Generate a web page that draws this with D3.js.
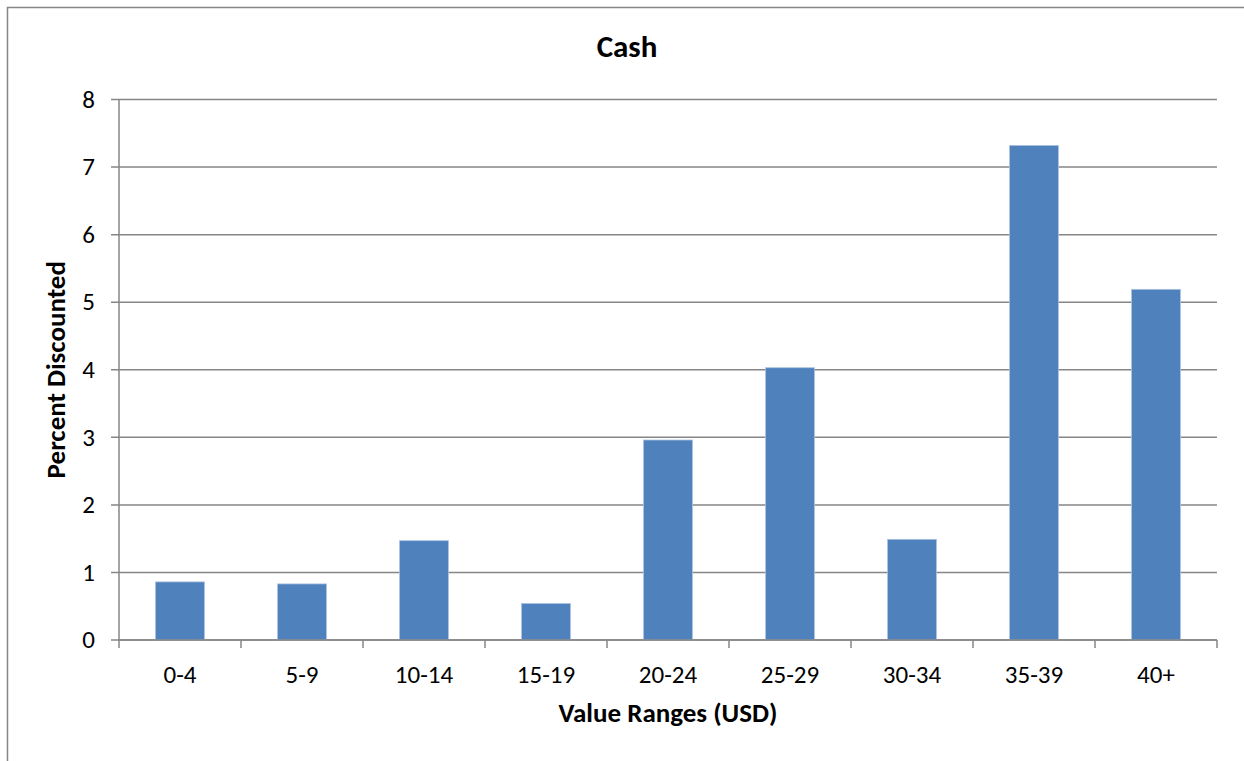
<!DOCTYPE html>
<html><head><meta charset="utf-8">
<script src="https://cdn.jsdelivr.net/npm/d3@7"></script>
<style>body{margin:0;background:#fff}svg{display:block}text{font-family:Carlito,Calibri,Lato,sans-serif;fill:#000}</style>
</head><body><svg id="c" width="1244" height="761"></svg>
<script>
const categories = ["0-4","5-9","10-14","15-19","20-24","25-29","30-34","35-39","40+"];
const values = [0.86,0.83,1.47,0.54,2.96,4.03,1.49,7.32,5.19];
const yTicks = [0,1,2,3,4,5,6,7,8];
const title = "Cash";
const xTitle = "Value Ranges (USD)";
const yTitle = "Percent Discounted";

const svg = d3.select("#c");
const L = 119, R = 1217, T = 99.5, B = 640;
svg.append("rect").attr("x",7.5).attr("y",7.5).attr("width",1300).attr("height",800)
  .attr("fill","none").attr("stroke","#868686").attr("stroke-width",1.5);

const x = d3.scaleBand().domain(categories).range([L,R]).paddingInner(0.6).paddingOuter(0.3);
const xb = d3.scaleBand().domain(categories).range([L,R]);
const y = d3.scaleLinear().domain([0,8]).range([B,T]);
const grey = "#868686";

// gridlines
svg.append("g").selectAll("line").data(yTicks).join("line")
  .attr("x1",L-8).attr("x2",R).attr("y1",d=>y(d)).attr("y2",d=>y(d))
  .attr("stroke",grey).attr("stroke-width",1.5);

// y axis
svg.append("line").attr("x1",L).attr("x2",L).attr("y1",T).attr("y2",B).attr("stroke",grey).attr("stroke-width",1.5);
svg.append("g").selectAll("text").data(yTicks).join("text")
  .attr("x",95).attr("y",d=>y(d)).attr("dy","0.33em").attr("text-anchor","end")
  .style("font-size","25px").text(d=>d);

// bars
svg.append("g").selectAll("rect").data(values).join("rect")
  .attr("x",(d,i)=>x(categories[i])).attr("width",x.bandwidth())
  .attr("y",d=>y(d)).attr("height",d=>B-y(d))
  .attr("fill","#4F81BD").attr("stroke","#a9c1e0").attr("stroke-width",0.8);

// x axis
svg.append("line").attr("x1",L).attr("x2",R).attr("y1",B).attr("y2",B).attr("stroke",grey).attr("stroke-width",1.5);
const bounds = categories.map(c=>xb(c)).concat([R]);
svg.append("g").selectAll("line").data(bounds).join("line")
  .attr("x1",d=>d).attr("x2",d=>d).attr("y1",B).attr("y2",B+8).attr("stroke",grey).attr("stroke-width",1.5);
svg.append("g").selectAll("text").data(categories).join("text")
  .attr("x",d=>xb(d)+xb.bandwidth()/2).attr("y",683).attr("text-anchor","middle")
  .style("font-size","25px").text(d=>d);

// titles
svg.append("text").attr("x",627).attr("y",57).attr("text-anchor","middle")
  .style("font-size","31px").style("font-weight","bold").text(title);
svg.append("text").attr("x",(L+R)/2).attr("y",722).attr("text-anchor","middle")
  .style("font-size","27px").style("font-weight","bold").text(xTitle);
svg.append("text").attr("transform",`translate(65,${(T+B)/2}) rotate(-90)`).attr("text-anchor","middle")
  .style("font-size","27px").style("font-weight","bold").text(yTitle);
</script></body></html>
